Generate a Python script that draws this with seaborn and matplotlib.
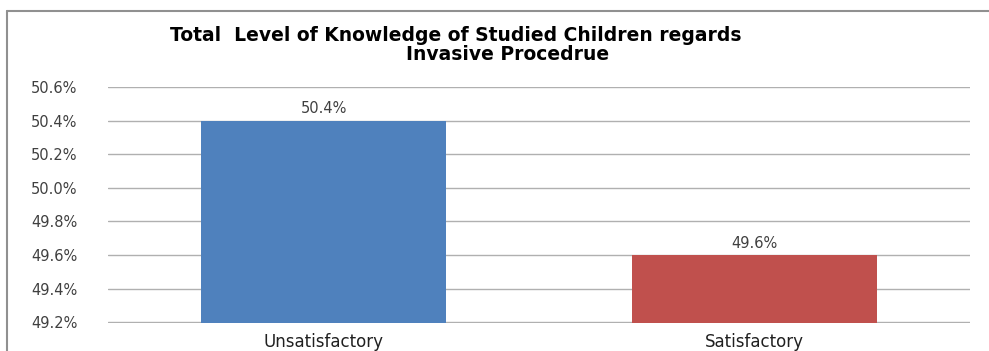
import numpy as np
import pandas as pd
import matplotlib
matplotlib.use("Agg")
import matplotlib.pyplot as plt
import seaborn as sns
from matplotlib.lines import Line2D
from matplotlib.ticker import FuncFormatter, MultipleLocator

categories = ["Unsatisfactory", "Satisfactory"]
values = [50.4, 49.6]
bar_labels = ["50.4%", "49.6%"]
title_line1 = "Total  Level of Knowledge of Studied Children regards"
title_line2 = "Invasive Procedrue"
colors = ["#4F81BD", "#C0504D"]

df = pd.DataFrame({"Level": categories, "Percent": values})

sns.set_style("white")
plt.rcParams["font.family"] = ["DejaVu Sans"]

W, H = 989, 351
fig = plt.figure(figsize=(W / 100, H / 100), dpi=100)
ax = fig.add_axes([108 / W, 1 - 323 / H, (970 - 108) / W, (323 - 87) / H])

sns.barplot(data=df, x="Level", y="Percent", hue="Level", order=categories,
            palette=colors, width=0.57, saturation=1, legend=False, ax=ax,
            zorder=3, edgecolor="none")

ax.set_ylim(49.195, 50.6)
ax.set_xlim(-0.5, 1.5)
ax.yaxis.set_major_locator(MultipleLocator(0.2))
ax.yaxis.set_major_formatter(FuncFormatter(lambda v, _: f"{v:.1f}%"))
ax.grid(axis="y", color="#B0B0B0", linewidth=1.0, zorder=0)
ax.set_axisbelow(True)
for s in ax.spines.values():
    s.set_visible(False)
ax.tick_params(axis="y", length=0, pad=22, labelsize=10.5, labelcolor="#404040")
ax.tick_params(axis="x", length=0, pad=7, labelsize=12, labelcolor="#202020")
ax.set_xlabel("")
ax.set_ylabel("")

for i, (v, lab) in enumerate(zip(values, bar_labels)):
    ax.annotate(lab, (i, v), xytext=(0, 3), textcoords="offset points",
                ha="center", va="bottom", fontsize=10.5, color="#404040")

fig.text(456 / W, 1 - 41 / H, title_line1, ha="center", va="baseline",
         fontsize=13.5, fontweight="bold", color="black")
fig.text(508 / W, 1 - 60 / H, title_line2, ha="center", va="baseline",
         fontsize=13.5, fontweight="bold", color="black")

# chart frame: only top and left edges show in the cropped picture
top = 1 - 11 / H
left = 7 / W
fig.lines.append(Line2D([left, 1.0], [top, top], transform=fig.transFigure,
                        color="#909090", linewidth=1.5))
fig.lines.append(Line2D([left, left], [0, top], transform=fig.transFigure,
                        color="#909090", linewidth=1.5))

fig.savefig("out.png", dpi=100)
